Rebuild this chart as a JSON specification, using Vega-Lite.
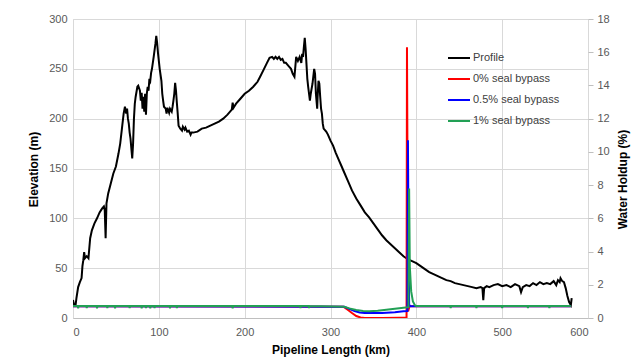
{
  "$schema": "https://vega.github.io/schema/vega-lite/v6.json",
  "width": 515,
  "height": 299,
  "autosize": {"type": "none"},
  "padding": {"left": 73, "top": 19, "right": 54, "bottom": 44},
  "background": "white",
  "config": {
    "font": "Liberation Sans",
    "view": {"stroke": "#d9d9d9", "strokeWidth": 1},
    "axis": {
      "labelFont": "Liberation Sans",
      "labelFontSize": 11,
      "labelColor": "#595959",
      "titleFont": "Liberation Sans",
      "titleFontSize": 12,
      "titleFontWeight": "bold",
      "titleColor": "#000000",
      "gridColor": "#d9d9d9",
      "domainColor": "#bfbfbf",
      "tickColor": "#bfbfbf"
    },
    "legend": {
      "orient": "none",
      "legendX": 374,
      "legendY": 27,
      "symbolType": "stroke",
      "symbolSize": 484,
      "symbolStrokeWidth": 2,
      "labelFont": "Liberation Sans",
      "labelFontSize": 11,
      "labelColor": "#404040",
      "labelOffset": 2,
      "rowPadding": 4,
      "padding": 0
    }
  },
  "datasets": {
    "profile": [
      {"km":0,"elev":18},{"km":1,"elev":14},{"km":3,"elev":13},{"km":4,"elev":20},{"km":6,"elev":31},{"km":8,"elev":36},{"km":10,"elev":40},{"km":11,"elev":52},{"km":12,"elev":58},{"km":13,"elev":66},{"km":14,"elev":60},{"km":16,"elev":62},{"km":18,"elev":60},{"km":20,"elev":80},{"km":22,"elev":88},{"km":25,"elev":95},{"km":28,"elev":100},{"km":31,"elev":106},{"km":34,"elev":110},{"km":36,"elev":112},{"km":37,"elev":108},{"km":38,"elev":80},{"km":39,"elev":115},{"km":41,"elev":125},{"km":44,"elev":135},{"km":47,"elev":145},{"km":50,"elev":152},{"km":53,"elev":165},{"km":55,"elev":175},{"km":57,"elev":190},{"km":59,"elev":205},{"km":60.5,"elev":212},{"km":62,"elev":205},{"km":63,"elev":210},{"km":64,"elev":200},{"km":65,"elev":195},{"km":66,"elev":186},{"km":67,"elev":180},{"km":68,"elev":170},{"km":69,"elev":160},{"km":70,"elev":175},{"km":71,"elev":200},{"km":72,"elev":215},{"km":73,"elev":222},{"km":75,"elev":232},{"km":76,"elev":233},{"km":78,"elev":228},{"km":79,"elev":218},{"km":80,"elev":226},{"km":81,"elev":210},{"km":82,"elev":222},{"km":83,"elev":207},{"km":84,"elev":225},{"km":85,"elev":204},{"km":86,"elev":225},{"km":87,"elev":232},{"km":88,"elev":228},{"km":89,"elev":240},{"km":90,"elev":238},{"km":91,"elev":246},{"km":92,"elev":250},{"km":94,"elev":262},{"km":96,"elev":275},{"km":97,"elev":283},{"km":98,"elev":276},{"km":99,"elev":266},{"km":100,"elev":258},{"km":101,"elev":250},{"km":103,"elev":238},{"km":104,"elev":225},{"km":105,"elev":218},{"km":106,"elev":212},{"km":108,"elev":210},{"km":109,"elev":205},{"km":110,"elev":211},{"km":112,"elev":206},{"km":113,"elev":210},{"km":115,"elev":207},{"km":116,"elev":212},{"km":117,"elev":218},{"km":118,"elev":225},{"km":119,"elev":236},{"km":120,"elev":228},{"km":121,"elev":216},{"km":122,"elev":205},{"km":123,"elev":193},{"km":125,"elev":190},{"km":127,"elev":188},{"km":128,"elev":192},{"km":130,"elev":189},{"km":131,"elev":191},{"km":133,"elev":187},{"km":135,"elev":188},{"km":137,"elev":184},{"km":138,"elev":186},{"km":140,"elev":186},{"km":145,"elev":187},{"km":150,"elev":190},{"km":155,"elev":191},{"km":160,"elev":193},{"km":165,"elev":195},{"km":170,"elev":197},{"km":175,"elev":200},{"km":180,"elev":204},{"km":185,"elev":209},{"km":186,"elev":216},{"km":187,"elev":211},{"km":190,"elev":215},{"km":195,"elev":220},{"km":200,"elev":225},{"km":205,"elev":228},{"km":210,"elev":232},{"km":215,"elev":237},{"km":218,"elev":242},{"km":222,"elev":249},{"km":226,"elev":256},{"km":229,"elev":261},{"km":232,"elev":262},{"km":234,"elev":260},{"km":236,"elev":262},{"km":238,"elev":260},{"km":240,"elev":262},{"km":242,"elev":259},{"km":244,"elev":260},{"km":246,"elev":256},{"km":248,"elev":256},{"km":250,"elev":254},{"km":252,"elev":252},{"km":254,"elev":250},{"km":256,"elev":245},{"km":258,"elev":242},{"km":259,"elev":252},{"km":260,"elev":262},{"km":262,"elev":258},{"km":264,"elev":262},{"km":266,"elev":256},{"km":267,"elev":265},{"km":268,"elev":262},{"km":269,"elev":272},{"km":270,"elev":281},{"km":271,"elev":270},{"km":272,"elev":255},{"km":273,"elev":240},{"km":274,"elev":232},{"km":275,"elev":225},{"km":276,"elev":218},{"km":277,"elev":225},{"km":279,"elev":235},{"km":281,"elev":250},{"km":282,"elev":245},{"km":283,"elev":225},{"km":284.5,"elev":210},{"km":285,"elev":222},{"km":286,"elev":238},{"km":287,"elev":235},{"km":288,"elev":222},{"km":289,"elev":210},{"km":290,"elev":205},{"km":291,"elev":195},{"km":292,"elev":190},{"km":295,"elev":187},{"km":297,"elev":184},{"km":300,"elev":178},{"km":303,"elev":173},{"km":306,"elev":166},{"km":309,"elev":160},{"km":312,"elev":154},{"km":315,"elev":148},{"km":320,"elev":138},{"km":325,"elev":128},{"km":330,"elev":120},{"km":335,"elev":113},{"km":340,"elev":106},{"km":345,"elev":101},{"km":350,"elev":95},{"km":355,"elev":89},{"km":360,"elev":83},{"km":365,"elev":78},{"km":370,"elev":74},{"km":375,"elev":70},{"km":380,"elev":66},{"km":385,"elev":62},{"km":390,"elev":59},{"km":395,"elev":57},{"km":400,"elev":55},{"km":405,"elev":52},{"km":410,"elev":49},{"km":415,"elev":46},{"km":420,"elev":44},{"km":425,"elev":42},{"km":430,"elev":40},{"km":435,"elev":38},{"km":440,"elev":37},{"km":445,"elev":35},{"km":450,"elev":34},{"km":455,"elev":33},{"km":460,"elev":32},{"km":465,"elev":31},{"km":470,"elev":30},{"km":475,"elev":31},{"km":477,"elev":30},{"km":478,"elev":18},{"km":479,"elev":30},{"km":482,"elev":32},{"km":485,"elev":31},{"km":490,"elev":33},{"km":495,"elev":34},{"km":500,"elev":32},{"km":505,"elev":33},{"km":510,"elev":31},{"km":515,"elev":34},{"km":520,"elev":32},{"km":522,"elev":26},{"km":524,"elev":31},{"km":528,"elev":33},{"km":532,"elev":32},{"km":536,"elev":35},{"km":540,"elev":33},{"km":544,"elev":36},{"km":548,"elev":34},{"km":552,"elev":35},{"km":556,"elev":34},{"km":560,"elev":37},{"km":563,"elev":33},{"km":565,"elev":38},{"km":567,"elev":36},{"km":568,"elev":40},{"km":570,"elev":37},{"km":572,"elev":36},{"km":574,"elev":30},{"km":576,"elev":22},{"km":578,"elev":16},{"km":580,"elev":13},{"km":581,"elev":20}
    ],
    "holdup": [
      {"s":"0% seal bypass","km":0,"h":0.7},{"s":"0% seal bypass","km":315,"h":0.68},{"s":"0% seal bypass","km":320,"h":0.5},{"s":"0% seal bypass","km":325,"h":0.3},{"s":"0% seal bypass","km":330,"h":0.12},{"s":"0% seal bypass","km":335,"h":0.03},{"s":"0% seal bypass","km":340,"h":0.0},{"s":"0% seal bypass","km":360,"h":0.0},{"s":"0% seal bypass","km":380,"h":0.02},{"s":"0% seal bypass","km":388.6,"h":0.03},{"s":"0% seal bypass","km":389.1,"h":16.3},{"s":"0% seal bypass","km":389.8,"h":8},{"s":"0% seal bypass","km":390.5,"h":0.4},{"s":"0% seal bypass","km":392,"h":0.7},{"s":"0% seal bypass","km":580,"h":0.7},
      {"s":"0.5% seal bypass","km":0,"h":0.7},{"s":"0.5% seal bypass","km":316,"h":0.68},{"s":"0.5% seal bypass","km":322,"h":0.55},{"s":"0.5% seal bypass","km":328,"h":0.42},{"s":"0.5% seal bypass","km":334,"h":0.33},{"s":"0.5% seal bypass","km":340,"h":0.3},{"s":"0.5% seal bypass","km":360,"h":0.3},{"s":"0.5% seal bypass","km":375,"h":0.35},{"s":"0.5% seal bypass","km":385,"h":0.4},{"s":"0.5% seal bypass","km":389.6,"h":0.42},{"s":"0.5% seal bypass","km":390.2,"h":10.7},{"s":"0.5% seal bypass","km":390.9,"h":5},{"s":"0.5% seal bypass","km":391.6,"h":0.8},{"s":"0.5% seal bypass","km":393,"h":0.7},{"s":"0.5% seal bypass","km":580,"h":0.7},
      {"s":"1% seal bypass","km":0,"h":0.72},{"s":"1% seal bypass","km":5.6,"h":0.72},{"s":"1% seal bypass","km":6,"h":0.58},{"s":"1% seal bypass","km":6.4,"h":0.72},{"s":"1% seal bypass","km":15.6,"h":0.72},{"s":"1% seal bypass","km":16,"h":0.6},{"s":"1% seal bypass","km":16.4,"h":0.72},{"s":"1% seal bypass","km":27.6,"h":0.72},{"s":"1% seal bypass","km":28,"h":0.58},{"s":"1% seal bypass","km":28.4,"h":0.72},{"s":"1% seal bypass","km":39.6,"h":0.72},{"s":"1% seal bypass","km":40,"h":0.6},{"s":"1% seal bypass","km":40.4,"h":0.72},{"s":"1% seal bypass","km":48.6,"h":0.72},{"s":"1% seal bypass","km":49,"h":0.58},{"s":"1% seal bypass","km":49.4,"h":0.72},{"s":"1% seal bypass","km":65.6,"h":0.72},{"s":"1% seal bypass","km":66,"h":0.6},{"s":"1% seal bypass","km":66.4,"h":0.72},{"s":"1% seal bypass","km":79.6,"h":0.72},{"s":"1% seal bypass","km":80,"h":0.58},{"s":"1% seal bypass","km":80.4,"h":0.72},{"s":"1% seal bypass","km":84.6,"h":0.72},{"s":"1% seal bypass","km":85,"h":0.6},{"s":"1% seal bypass","km":85.4,"h":0.72},{"s":"1% seal bypass","km":89.6,"h":0.72},{"s":"1% seal bypass","km":90,"h":0.58},{"s":"1% seal bypass","km":90.4,"h":0.72},{"s":"1% seal bypass","km":94.6,"h":0.72},{"s":"1% seal bypass","km":95,"h":0.6},{"s":"1% seal bypass","km":95.4,"h":0.72},{"s":"1% seal bypass","km":112.6,"h":0.72},{"s":"1% seal bypass","km":113,"h":0.58},{"s":"1% seal bypass","km":113.4,"h":0.72},{"s":"1% seal bypass","km":120.6,"h":0.72},{"s":"1% seal bypass","km":121,"h":0.6},{"s":"1% seal bypass","km":121.4,"h":0.72},{"s":"1% seal bypass","km":185.6,"h":0.72},{"s":"1% seal bypass","km":186,"h":0.58},{"s":"1% seal bypass","km":186.4,"h":0.72},{"s":"1% seal bypass","km":264.6,"h":0.72},{"s":"1% seal bypass","km":265,"h":0.6},{"s":"1% seal bypass","km":265.4,"h":0.72},{"s":"1% seal bypass","km":274.6,"h":0.72},{"s":"1% seal bypass","km":275,"h":0.6},{"s":"1% seal bypass","km":275.4,"h":0.72},{"s":"1% seal bypass","km":316,"h":0.68},{"s":"1% seal bypass","km":322,"h":0.58},{"s":"1% seal bypass","km":330,"h":0.48},{"s":"1% seal bypass","km":338,"h":0.42},{"s":"1% seal bypass","km":345,"h":0.4},{"s":"1% seal bypass","km":355,"h":0.44},{"s":"1% seal bypass","km":365,"h":0.5},{"s":"1% seal bypass","km":375,"h":0.56},{"s":"1% seal bypass","km":385,"h":0.62},{"s":"1% seal bypass","km":390.8,"h":0.65},{"s":"1% seal bypass","km":391.6,"h":7.8},{"s":"1% seal bypass","km":392.4,"h":3.1},{"s":"1% seal bypass","km":394,"h":1.6},{"s":"1% seal bypass","km":396,"h":1.0},{"s":"1% seal bypass","km":398.5,"h":0.75},{"s":"1% seal bypass","km":400,"h":0.72},{"s":"1% seal bypass","km":439.6,"h":0.72},{"s":"1% seal bypass","km":440,"h":0.6},{"s":"1% seal bypass","km":440.4,"h":0.72},{"s":"1% seal bypass","km":469.6,"h":0.72},{"s":"1% seal bypass","km":470,"h":0.6},{"s":"1% seal bypass","km":470.4,"h":0.72},{"s":"1% seal bypass","km":499.6,"h":0.72},{"s":"1% seal bypass","km":500,"h":0.6},{"s":"1% seal bypass","km":500.4,"h":0.72},{"s":"1% seal bypass","km":529.6,"h":0.72},{"s":"1% seal bypass","km":530,"h":0.6},{"s":"1% seal bypass","km":530.4,"h":0.72},{"s":"1% seal bypass","km":554.6,"h":0.72},{"s":"1% seal bypass","km":555,"h":0.6},{"s":"1% seal bypass","km":555.4,"h":0.72},{"s":"1% seal bypass","km":580,"h":0.72}
    ]
  },
  "layer": [
    {
      "data": {"name": "profile"},
      "mark": {"type": "line", "strokeWidth": 2, "clip": true},
      "encoding": {
        "x": {
          "field": "km", "type": "quantitative",
          "scale": {"domain": [0, 600], "nice": false},
          "axis": {
            "title": "Pipeline Length (km)",
            "values": [0, 100, 200, 300, 400, 500, 600],
            "ticks": false,
            "labelPadding": 8,
            "grid": true,
            "titleY": 31,
            "titleBaseline": "middle"
          }
        },
        "y": {
          "field": "elev", "type": "quantitative",
          "scale": {"domain": [0, 300], "nice": false, "zero": true},
          "axis": {
            "title": "Elevation (m)",
            "values": [0, 50, 100, 150, 200, 250, 300],
            "ticks": false,
            "labelPadding": 6,
            "grid": true,
            "domain": false,
            "titleAngle": 270,
            "titleX": -40,
            "titleY": 150,
            "titleBaseline": "middle"
          }
        },
        "color": {
          "datum": "Profile",
          "type": "nominal",
          "scale": {
            "domain": ["Profile", "0% seal bypass", "0.5% seal bypass", "1% seal bypass"],
            "range": ["#000000", "#ff0000", "#0000ff", "#22a055"]
          },
          "legend": {"title": null}
        }
      }
    },
    {
      "data": {"name": "holdup"},
      "mark": {"type": "line", "strokeWidth": 2, "clip": true},
      "encoding": {
        "x": {"field": "km", "type": "quantitative"},
        "y": {
          "field": "h", "type": "quantitative",
          "scale": {"domain": [0, 18], "nice": false},
          "axis": {
            "orient": "right",
            "title": "Water Holdup (%)",
            "values": [0, 2, 4, 6, 8, 10, 12, 14, 16, 18],
            "grid": false,
            "ticks": true,
            "tickSize": 5,
            "labelPadding": 4,
            "domain": false,
            "titleAngle": 270,
            "titleX": 34,
            "titleY": 160,
            "titleBaseline": "middle"
          }
        },
        "color": {"field": "s", "type": "nominal", "legend": {"title": null}},
        "order": {"field": "km", "type": "quantitative"}
      }
    }
  ],
  "resolve": {"scale": {"y": "independent"}}
}
